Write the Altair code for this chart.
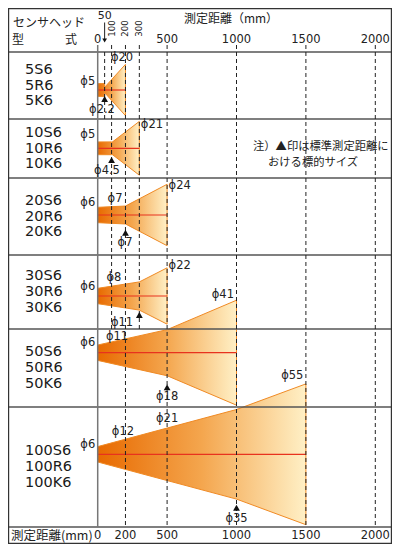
import altair as alt
import pandas as pd

# ---------------- data ----------------
MODELS = [
    ["5S6", "5R6", "5K6"],
    ["10S6", "10R6", "10K6"],
    ["20S6", "20R6", "20K6"],
    ["30S6", "30R6", "30K6"],
    ["50S6", "50R6", "50K6"],
    ["100S6", "100R6", "100K6"],
]
HEAD_DIA = [5, 5, 6, 6, 6, 6]                 # spot diameter at the head (0 mm)
STD_DIST = [50, 100, 200, 300, 500, 1000]     # standard distance (▲)
STD_DIA = [2.2, 4.5, 7, 11, 18, 35]           # spot diameter at standard distance
MAX_DIST = [200, 300, 500, 500, 1000, 1500]   # end of the drawn beam
MAX_DIA = [20, 21, 24, 22, 41, 55]            # spot diameter at the end
EXTRA_DIA = [[], [], ["7"], ["8"], ["11"], ["12", "21"]]
ROW_GRID = [
    [50, 100, 200, 300, 500, 1000, 1500, 2000],
    [100, 200, 300, 500, 1000, 1500, 2000],
    [100, 200, 300, 500, 1000, 1500, 2000],
    [100, 200, 300, 500, 1000, 1500, 2000],
    [200, 500, 1000, 1500, 2000],
    [200, 500, 1000, 1500, 2000],
]
HEADER_TICKS = [0, 500, 1000, 1500, 2000]
HEADER_VTICKS = [100, 200, 300]
HEADER_ARROW = 50
BOTTOM_TICKS = [0, 200, 500, 1000, 1500, 2000]
NOTE = ["注）▲印は標準測定距離に", "おける標的サイズ"]
HEAD_TITLE = ["センサヘッド", "型", "式"]
DIST_TITLE = "測定距離（mm）"
DIST_TITLE_BOTTOM = "測定距離(mm)"

# ---------------- layout ----------------
W, H = 384, 536
PX_PER_MM = 0.1388
X0 = -(97.7 - 8) / PX_PER_MM
X1 = X0 + W / PX_PER_MM
K = 2.56  # px per mm of spot diameter
ROW_EDGES = [52, 119, 178, 255, 329, 407, 527]
BEAM_AXIS = [90, 148.3, 215, 296, 352.7, 454.3]
TRI_DY = [9, 11.7, 17.7, 19, 34.6, 53.4]
HEAD_LBL_DY = [-8, -13.3, -12.3, -8.7, -9.4, -9.3]
STD_LBL = [(31, 19.5), (67, 22.4), (197, 28.3), (175, 26.7), (500, 44.6), (1000, 64.7)]
MAX_LBL = [(175, -32, "center"), (300, -23.3, "left"), (500, -29, "left"),
           (500, -30, "left"), (1000, -57.7, "right"), (1500, -78.6, "right")]
EXTRA_LBL = [[], [], [(125, -15.7)], [(117, -18.3)], [(139, -16)], [(182, -22), (500, -35)]]

XS = alt.Scale(domain=[X0, X1], nice=False, zero=False)
YS = alt.Scale(domain=[8, 8 + H], reverse=True, nice=False, zero=False)
PXS = alt.Scale(domain=[0, W], range=[0, W], nice=False, zero=False)
LATIN = "DejaVu Sans"
CJK = "Noto Sans CJK JP"
TXT = "#222222"


def X(f="x"):
    return alt.X(f"{f}:Q", scale=XS, axis=None)


def Y(f="y"):
    return alt.Y(f"{f}:Q", scale=YS, axis=None)


GRAD = alt.Gradient(
    gradient="linear", x1=0, x2=1, y1=0, y2=0,
    stops=[alt.GradientStop(offset=0, color="#e86a00"),
           alt.GradientStop(offset=0.5, color="#f4a64e"),
           alt.GradientStop(offset=1, color="#fff0c6")],
)

layers = []

# beams
edge_rows, right_rows, axis_rows = [], [], []
for i in range(len(MODELS)):
    c = BEAM_AXIS[i]
    pts = [(0, HEAD_DIA[i])]
    if STD_DIA[i] < HEAD_DIA[i]:
        pts += [(STD_DIST[i], HEAD_DIA[i]), (STD_DIST[i] + 0.5, STD_DIA[i])]
    else:
        pts += [(STD_DIST[i], STD_DIA[i])]
    pts += [(MAX_DIST[i], MAX_DIA[i])]
    df = pd.DataFrame({"x": [p[0] for p in pts],
                       "y": [c - p[1] / 2 * K for p in pts],
                       "y2": [c + p[1] / 2 * K for p in pts]})
    layers.append(alt.Chart(df).mark_area(color=GRAD, opacity=1).encode(
        x=X(), y=Y(), y2=alt.Y2("y2:Q")))
    for p in pts:
        edge_rows.append({"x": p[0], "y": c - p[1] / 2 * K, "e": f"t{i}"})
        edge_rows.append({"x": p[0], "y": c + p[1] / 2 * K, "e": f"b{i}"})
    right_rows.append({"x": MAX_DIST[i], "y": c - MAX_DIA[i] / 2 * K, "y2": c + MAX_DIA[i] / 2 * K})
    axis_rows.append({"x": 0, "x2": MAX_DIST[i], "y": c})

layers.append(alt.Chart(pd.DataFrame(edge_rows)).mark_line(color="#f08a24", strokeWidth=1).encode(
    x=X(), y=Y(), detail="e:N"))
layers.append(alt.Chart(pd.DataFrame(right_rows)).mark_rule(color="#f08a24", strokeWidth=1).encode(
    x=X(), y=Y(), y2=alt.Y2("y2:Q")))
layers.append(alt.Chart(pd.DataFrame(axis_rows)).mark_rule(color="#e8321e", strokeWidth=1.2).encode(
    x=X(), x2=alt.X2("x2:Q"), y=Y()))

# row separators
layers.append(alt.Chart(pd.DataFrame({"y": ROW_EDGES})).mark_rule(color="#555", strokeWidth=1.4).encode(
    y=Y(), x=alt.value(0), x2=alt.value(W)))

# dashed guide lines
header_set = set(HEADER_VTICKS + HEADER_TICKS[1:])
dists = sorted(set(d for r in ROW_GRID for d in r))
dash_rows = []
for d in dists:
    rows = [i for i, r in enumerate(ROW_GRID) if d in r]
    top = 45 if d in header_set else ROW_EDGES[rows[0]]
    dash_rows.append({"x": d, "y": top, "y2": ROW_EDGES[rows[-1] + 1]})
layers.append(alt.Chart(pd.DataFrame(dash_rows)).mark_rule(
    color="#222", strokeWidth=1, strokeDash=[4, 3]).encode(x=X(), y=Y(), y2=alt.Y2("y2:Q")))

# zero line
layers.append(alt.Chart(pd.DataFrame({"x": [0], "y": [45], "y2": [ROW_EDGES[-1]]})).mark_rule(
    color="#777", strokeWidth=1.5).encode(x=X(), y=Y(), y2=alt.Y2("y2:Q")))

# standard-distance triangles
tri = pd.DataFrame({"x": STD_DIST, "y": [BEAM_AXIS[i] + TRI_DY[i] for i in range(len(MODELS))]})
layers.append(alt.Chart(tri).mark_point(shape="triangle-up", filled=True, color="#111",
                                        size=46, opacity=1).encode(x=X(), y=Y()))

# header arrow for 50
layers.append(alt.Chart(pd.DataFrame({"x": [HEADER_ARROW], "y": [22.5], "y2": [39]})).mark_rule(
    color="#222", strokeWidth=1).encode(x=X(), y=Y(), y2=alt.Y2("y2:Q")))
layers.append(alt.Chart(pd.DataFrame({"x": [HEADER_ARROW], "y": [40.5]})).mark_point(
    shape="triangle-down", filled=True, color="#111", size=22, opacity=1).encode(x=X(), y=Y()))

# diameter labels
lbl = {"left": [], "center": [], "right": []}
for i in range(len(MODELS)):
    c = BEAM_AXIS[i]
    lbl["right"].append({"x": 0, "y": c + HEAD_LBL_DY[i], "t": f"ϕ{HEAD_DIA[i]}"})
    lbl["center"].append({"x": STD_LBL[i][0], "y": c + STD_LBL[i][1], "t": f"ϕ{STD_DIA[i]}"})
    mx, mdy, mal = MAX_LBL[i]
    lbl[mal].append({"x": mx, "y": c + mdy, "t": f"ϕ{MAX_DIA[i]}"})
    for (ex, edy), et in zip(EXTRA_LBL[i], EXTRA_DIA[i]):
        lbl["center"].append({"x": ex, "y": c + edy, "t": f"ϕ{et}"})
for al, dx in (("left", 1.5), ("center", 0), ("right", -2.5)):
    layers.append(alt.Chart(pd.DataFrame(lbl[al])).mark_text(
        align=al, dx=dx, font=LATIN, fontSize=11.5, color=TXT).encode(x=X(), y=Y(), text="t:N"))

# header tick labels
layers.append(alt.Chart(pd.DataFrame({"x": HEADER_TICKS, "y": 40, "t": [str(v) for v in HEADER_TICKS]}))
              .mark_text(font=LATIN, fontSize=11.5, color=TXT).encode(x=X(), y=Y(), text="t:N"))
layers.append(alt.Chart(pd.DataFrame({"x": HEADER_VTICKS, "y": 28.5, "t": [str(v) for v in HEADER_VTICKS]}))
              .mark_text(font="DejaVu Sans Condensed", fontSize=9.5, angle=270, color=TXT)
              .encode(x=X(), y=Y(), text="t:N"))
layers.append(alt.Chart(pd.DataFrame({"x": [HEADER_ARROW], "y": [16], "t": [str(HEADER_ARROW)]}))
              .mark_text(font=LATIN, fontSize=11, color=TXT).encode(x=X(), y=Y(), text="t:N"))
layers.append(alt.Chart(pd.DataFrame({"x": BOTTOM_TICKS, "y": 536, "t": [str(v) for v in BOTTOM_TICKS]}))
              .mark_text(font=LATIN, fontSize=11.5, color=TXT).encode(x=X(), y=Y(), text="t:N"))

# model names
name_rows = []
for i, names in enumerate(MODELS):
    mid = (ROW_EDGES[i] + ROW_EDGES[i + 1]) / 2
    for j, n in enumerate(names):
        name_rows.append({"y": mid + (j - 1) * 15.7, "t": n})
layers.append(alt.Chart(pd.DataFrame(name_rows)).mark_text(
    align="left", font=LATIN, fontSize=14.5, color="#1a1a1a").encode(x=alt.value(17), y=Y(), text="t:N"))

# titles & note (layout text)
title_rows = pd.DataFrame([
    {"px": 5, "y": 23, "t": HEAD_TITLE[0]},
    {"px": 4, "y": 40, "t": HEAD_TITLE[1]},
    {"px": 57, "y": 40, "t": HEAD_TITLE[2]},
])
layers.append(alt.Chart(title_rows).mark_text(align="left", font=CJK, fontSize=12, color=TXT).encode(
    x=alt.X("px:Q", scale=PXS, axis=None), y=Y(), text="t:N"))
layers.append(alt.Chart(pd.DataFrame({"y": [19], "t": [DIST_TITLE]})).mark_text(
    font=CJK, fontSize=12, color=TXT).encode(x=alt.value(223), y=Y(), text="t:N"))
layers.append(alt.Chart(pd.DataFrame({"y": [536], "t": [DIST_TITLE_BOTTOM]})).mark_text(
    align="left", font=CJK, fontSize=12.5, color=TXT).encode(x=alt.value(3), y=Y(), text="t:N"))
note_df = pd.DataFrame({"y": [146.7, 162.7], "t": NOTE, "px": [245, 260]})
layers.append(alt.Chart(note_df).mark_text(align="left", font=CJK, fontSize=11.3, color=TXT).encode(
    x=alt.X("px:Q", scale=PXS, axis=None), y=Y(), text="t:N"))

# outer frame
layers.append(alt.Chart(pd.DataFrame({"a": [0]})).mark_rect(
    fillOpacity=0, stroke="#333", strokeWidth=1.2).encode(
    x=alt.value(0.6), x2=alt.value(W - 0.6), y=alt.value(0.6), y2=alt.value(H - 0.6)))

chart = alt.layer(*layers).resolve_scale(x="independent").properties(
    width=W, height=H, autosize="none", padding=0
).configure_view(stroke=None)

chart.save("out.html", embed_options={"renderer": "svg", "actions": False})
